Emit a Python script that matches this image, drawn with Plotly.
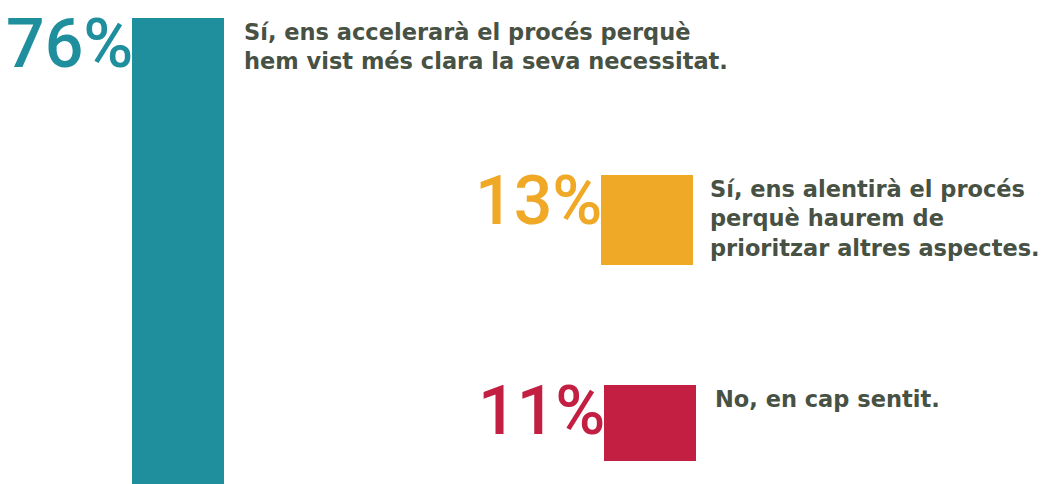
import plotly.graph_objects as go

# data
answers = [
    "Sí, ens accelerarà el procés perquè<br>hem vist més clara la seva necessitat.",
    "Sí, ens alentirà el procés<br>perquè haurem de<br>prioritzar altres aspectes.",
    "No, en cap sentit.",
]
shares = [76, 13, 11]
pct_labels = ["76%", "13%", "11%"]

# layout (pixel-ish positions of the infographic)
colors = ["#1f8f9e", "#f0a827", "#c21f43"]
bar_x = [178, 647, 649.5]
bar_top = [2.6, 25.4, 55.8]  # offsets in percent units from top
text_gap = [18, 15, 17]
BAR_W = 92
PX_PER_UNIT = 6.9
W, H = 1046, 484

fig = go.Figure()
for i in range(len(shares)):
    fig.add_trace(go.Bar(
        x=[bar_x[i]], y=[shares[i]], base=[bar_top[i]], width=BAR_W,
        marker=dict(color=colors[i], line=dict(width=0)),
        hoverinfo="skip", showlegend=False,
    ))
    fig.add_annotation(
        x=bar_x[i] - BAR_W / 2 + 3, y=bar_top[i], text=pct_labels[i],
        xanchor="right", yanchor="top", showarrow=False, yshift=16,
        font=dict(family="Roboto", size=68, color=colors[i], weight=500),
    )
    fig.add_annotation(
        x=bar_x[i] + BAR_W / 2 + text_gap[i], y=bar_top[i], text=answers[i],
        xanchor="left", yanchor="top", align="left", showarrow=False, yshift=1,
        font=dict(family="DejaVu Sans", size=22.5, color="#475144", weight=600),
    )

fig.update_layout(
    width=W, height=H,
    margin=dict(l=0, r=0, t=0, b=0),
    paper_bgcolor="white", plot_bgcolor="white",
    xaxis=dict(range=[0, W], visible=False, fixedrange=True),
    yaxis=dict(range=[H / PX_PER_UNIT, 0], visible=False, fixedrange=True),
    bargap=0,
)

fig.write_html("out.html", config={"displayModeBar": False},
               post_script="document.body.style.margin='0';")
